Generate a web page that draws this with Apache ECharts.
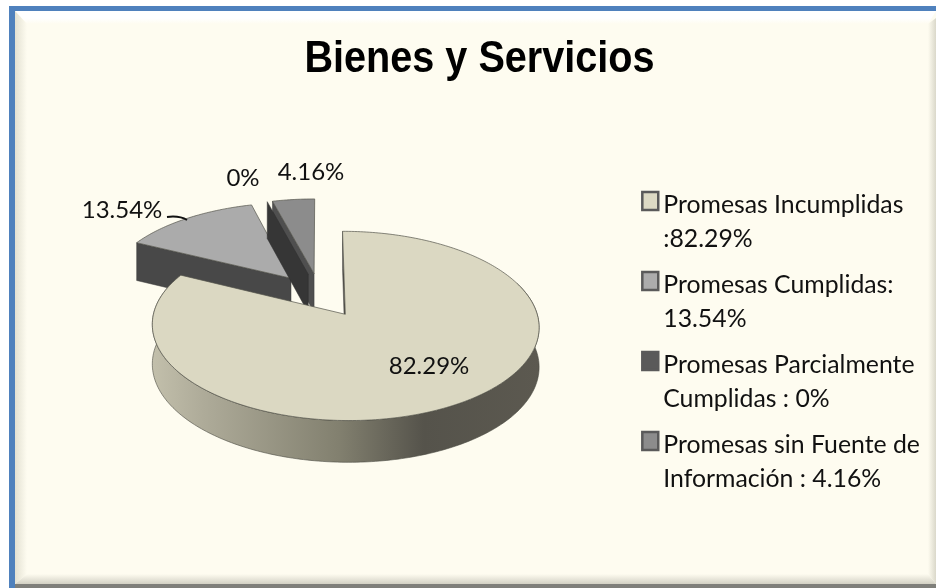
<!DOCTYPE html>
<html><head><meta charset="utf-8">
<style>html,body{margin:0;padding:0;background:#fff}#c{width:936px;height:588px}</style>
<script src="https://cdn.jsdelivr.net/npm/echarts@6/dist/echarts.min.js"></script>
</head><body><div id="c"></div>
<script>
const titleText = 'Bienes y Servicios';
const categories = ['Promesas Incumplidas\n:82.29%','Promesas Cumplidas:\n13.54%','Promesas Parcialmente\nCumplidas : 0%','Promesas sin Fuente de\nInformación : 4.16%'];
const values = [82.29, 13.54, 0, 4.16];
const valueLabels = ['82.29%','13.54%','0%','4.16%'];
const topColors = ['#DBD8C2','#ABABAB','#3A3A3A','#8C8C8C'];
const wallColors = ['#5A574F','#484848','#363636','#4F4F4F'];
const legendColors = ['#DDDAC4','#ACACAC','#5A5A5A','#8C8C8C'];
const labelPos = [[429,366.5],[122,210],[243,178.5],[311,172.5]];

// projection of the tilted, exploded pie
const cx=320, cy=295, A=187, B=88.5, P=0.12, DEPTH=39, EXPLODE=0.25;
const project=(u,v,z)=>{const w=1-P*v;return [cx+A*u/w, cy+B*v/w+z*DEPTH/Math.pow(w,0.43)];};
const total=values.reduce((a,b)=>a+b,0);
let acc=0;
const slices=values.map(v=>{const a0=acc/total*360;acc+=v;const a1=acc/total*360;return {a0,a1,mid:(a0+a1)/2};});
const rad=d=>d*Math.PI/180;

function renderSlice(i){
  const s=slices[i];
  const ou=EXPLODE*Math.sin(rad(s.mid)), ov=-EXPLODE*Math.cos(rad(s.mid));
  const rim=(deg,z)=>project(ou+Math.sin(rad(deg)),ov-Math.cos(rad(deg)),z);
  const apex=z=>project(ou,ov,z);
  const children=[];
  const edge='#55554C';
  // start-side cut wall
  children.push({type:'polygon',shape:{points:[apex(0),rim(s.a0,0),rim(s.a0,1),apex(1)]},
    style:{fill:wallColors[i],stroke:i===2?'#2E2E2E':'#3A3A3A',lineWidth:0.5}});
  if(i===2){
    return {type:'group',children};
  }
  // outer rim wall, front-facing part only
  const from=Math.max(s.a0,70), to=Math.min(s.a1,290);
  if(to>from){
    const up=[],down=[];
    for(let d=from;d<=to;d+=1){up.push(rim(d,0));down.unshift(rim(d,1));}
    children.push({type:'polygon',shape:{points:up.concat(down)},
      style:{fill:new echarts.graphic.LinearGradient(153,0,540,0,[
        {offset:0,color:'#C2BFAB'},{offset:0.13,color:'#AEAB99'},{offset:0.48,color:'#82806F'},
        {offset:0.70,color:'#55534B'},{offset:1,color:'#5C5950'}],true),stroke:'#4A4A42',lineWidth:0.6}});
  }
  // top face
  const pts=[apex(0)];
  for(let d=s.a0;d<s.a1;d+=1)pts.push(rim(d,0));
  pts.push(rim(s.a1,0));
  children.push({type:'polygon',shape:{points:pts},style:{fill:topColors[i],stroke:edge,lineWidth:0.7}});
  return {type:'group',children};
}

function labelEls(i){
  const els=[{type:'text',x:labelPos[i][0],y:labelPos[i][1],z2:50,
    style:{text:valueLabels[i],font:'24px Lato, "Open Sans", sans-serif',fill:'#111',align:'center',verticalAlign:'middle'}}];
  if(i===1){
    els.push({type:'path',z2:50,shape:{pathData:'M167 217 C175 216 182 217 187 220'},style:{fill:null,stroke:'#111',lineWidth:2}});
  }
  return els;
}

const drawOrder=[1,3,2,0];
const series=drawOrder.map((idx,o)=>({
  name:categories[idx],type:'custom',coordinateSystem:'none',z:2+o,silent:true,
  data:[values[idx]],itemStyle:{color:legendColors[idx]},
  renderItem(){return renderSlice(idx);}
}));
// value labels on top of every slice
series.push({type:'custom',coordinateSystem:'none',z:10,silent:true,data:values,
  renderItem(p){return {type:'group',children:labelEls(p.dataIndex)};}});

const W=936,H=588;
const frame=[
 {type:'rect',z:0,shape:{x:9,y:6,width:W-9,height:H-6},style:{fill:'#4F81BD'}},
 {type:'rect',z:0,shape:{x:15,y:11,width:W-15,height:H-11},style:{fill:'#FEFCF0'}},
 // bevels
 {type:'polygon',z:0,shape:{points:[[15,11],[W,11],[W-8,24],[27,24]]},style:{fill:new echarts.graphic.LinearGradient(0,11,0,24,[{offset:0,color:'#FFFFFF'},{offset:0.55,color:'#FFFFFF'},{offset:1,color:'#FEFCF0'}],true)}},
 {type:'polygon',z:0,shape:{points:[[15,11],[27,24],[27,574],[15,584]]},style:{fill:new echarts.graphic.LinearGradient(15,0,27,0,[{offset:0,color:'#E3E1D2'},{offset:1,color:'#FEFCF0'}],true)}},
 {type:'polygon',z:0,shape:{points:[[15,584],[27,574],[W-8,574],[W,584]]},style:{fill:new echarts.graphic.LinearGradient(0,574,0,584,[{offset:0,color:'#FEFCF0'},{offset:1,color:'#D3D1C4'}],true)}},
 {type:'polygon',z:0,shape:{points:[[W,18],[W-8,24],[W-8,574],[W,584]]},style:{fill:new echarts.graphic.LinearGradient(W-8,0,W,0,[{offset:0,color:'#FEFCF0'},{offset:1,color:'#DAD8CA'}],true)}},
 {type:'rect',z:0,shape:{x:15,y:584,width:W-15,height:4},style:{fill:'#7F7F7A'}},
 // chart title: the reference face is condensed, so it is narrowed horizontally
 {type:'text',z:1,x:479.5,y:60,scaleX:0.9,originX:0,originY:0,
  style:{text:titleText,font:'bold 44px "Liberation Sans",sans-serif',fill:'#000',align:'center',verticalAlign:'middle'}}
];

const chart=echarts.init(document.getElementById('c'),null,{renderer:'canvas'});
chart.setOption({
  animation:false,
  backgroundColor:'#fff',
  graphic:frame,
  legend:{
    left:635,top:183,orient:'vertical',itemGap:12,itemWidth:17,itemHeight:60,symbolKeepAspect:false,
    data:categories.map(name=>({name})),selectedMode:false,
    icon:'path://M1,10H16V25H1Z M0,60L0,60',
    itemStyle:{borderColor:'#5A5A5A',borderWidth:2.5},
    textStyle:{fontFamily:'Lato,"Open Sans",sans-serif',fontSize:24.8,lineHeight:34,color:'#111'}
  },
  series
});
</script></body></html>
